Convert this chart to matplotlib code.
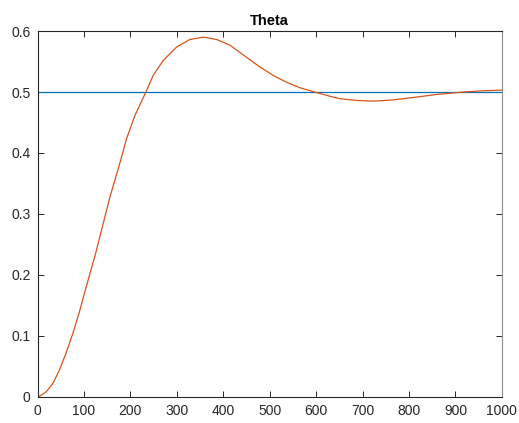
import matplotlib
matplotlib.use('Agg')
import matplotlib.pyplot as plt

# values
t = [0, 4, 18, 33, 47, 61, 76, 90, 104, 119, 124, 156, 176, 192, 210, 234,
     249, 271, 300, 328, 357, 386, 414, 450, 479, 508, 536, 565, 597, 630,
     651, 690, 723, 765, 809, 860, 917, 960, 1000]
theta = [0, 0.001, 0.008, 0.022, 0.044, 0.071, 0.104, 0.139, 0.178, 0.219,
         0.232, 0.328, 0.380, 0.424, 0.462, 0.501, 0.527, 0.552, 0.574, 0.586,
         0.590, 0.586, 0.577, 0.557, 0.541, 0.527, 0.516, 0.507, 0.500, 0.493,
         0.489, 0.486, 0.485, 0.487, 0.491, 0.496, 0.500, 0.502, 0.503]
ref_x = [0, 1000]
ref_y = [0.5, 0.5]

xticks = list(range(0, 1001, 100))
yticks = [0, 0.1, 0.2, 0.3, 0.4, 0.5, 0.6]

plt.rcParams['font.family'] = ['Liberation Sans', 'DejaVu Sans']
plt.rcParams['font.size'] = 10

fig = plt.figure(figsize=(5.19, 4.23), dpi=100)
ax = fig.add_axes([0.0723, 0.0615, 0.8947, 0.8652])

ax.plot(ref_x, ref_y, color='#0072BD', lw=0.9)
ax.plot(t, theta, color='#D95319', lw=0.9)

ax.set_xlim(0, 1000)
ax.set_ylim(0, 0.6)
ax.set_xticks(xticks)
ax.set_yticks(yticks)
ax.set_yticklabels(['0', '0.1', '0.2', '0.3', '0.4', '0.5', '0.6'])
ax.tick_params(direction='in', length=4, width=0.7, top=True, right=True,
               colors='#262626', labelcolor='#262626', pad=5)
for s in ax.spines.values():
    s.set_color('#262626')
    s.set_linewidth(0.8)
ax.spines['right'].set_color('#8c8c8c')

ax.set_title('Theta', fontweight='bold', fontsize=10.5, pad=4, color='black')

fig.savefig('out.png', dpi=100)
